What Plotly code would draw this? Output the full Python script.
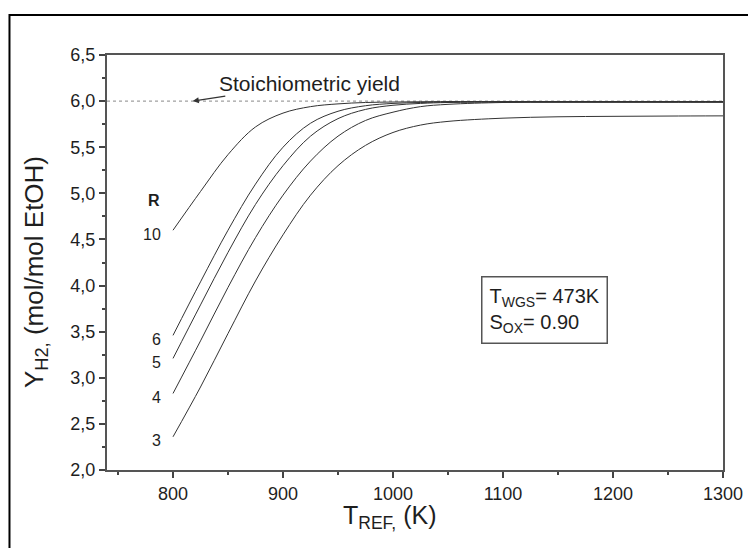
import plotly.graph_objects as go

# ---- data ----
t_ref = [800, 825, 850, 875, 900, 925, 950, 975, 1000, 1025, 1050, 1100, 1150, 1200, 1250, 1300]
r_values = ["10", "6", "5", "4", "3"]
y_r10 = [4.60, 5.02, 5.42, 5.72, 5.87, 5.94, 5.97, 5.985, 5.99, 5.993, 5.995, 5.995, 5.995, 5.995, 5.995, 5.995]
y_r6 = [3.46, 4.04, 4.60, 5.10, 5.50, 5.76, 5.89, 5.95, 5.975, 5.985, 5.99, 5.992, 5.993, 5.993, 5.993, 5.993]
y_r5 = [3.21, 3.79, 4.36, 4.88, 5.30, 5.62, 5.81, 5.91, 5.955, 5.975, 5.985, 5.99, 5.99, 5.99, 5.99, 5.99]
y_r4 = [2.83, 3.40, 3.98, 4.52, 4.98, 5.35, 5.62, 5.79, 5.88, 5.94, 5.965, 5.985, 5.988, 5.988, 5.988, 5.988]
y_r3 = [2.36, 2.90, 3.48, 4.05, 4.55, 4.98, 5.30, 5.52, 5.66, 5.74, 5.78, 5.815, 5.83, 5.835, 5.838, 5.84]
series = [y_r10, y_r6, y_r5, y_r4, y_r3]

stoich_x = [740, 1300]
stoich_y = [6.0, 6.0]

x_ticks = [800, 900, 1000, 1100, 1200, 1300]
y_ticks = [2.0, 2.5, 3.0, 3.5, 4.0, 4.5, 5.0, 5.5, 6.0, 6.5]

FONT = "Liberation Sans, Arial, sans-serif"
INK = "#1e1e1e"

fig = go.Figure()

fig.add_trace(go.Scatter(x=stoich_x, y=stoich_y, mode="lines",
                         line=dict(color="#a0a0a0", width=1.2, dash="dot"),
                         showlegend=False, hoverinfo="skip"))

for name, ys in zip(r_values, series):
    fig.add_trace(go.Scatter(x=t_ref, y=ys, mode="lines", name="R=" + name,
                             line=dict(color="#333333", width=1.0, shape="spline", smoothing=1.0),
                             showlegend=False))

# R labels at the start of each curve
for name, ys in zip(r_values, series):
    fig.add_annotation(x=t_ref[0], y=ys[0], xref="x", yref="y", text=name,
                       showarrow=False, xanchor="right", yanchor="middle",
                       xshift=-10, yshift=-4,
                       font=dict(family=FONT, size=16, color=INK))
fig.add_annotation(x=t_ref[0], y=y_r10[0], xref="x", yref="y", text="<b>R</b>",
                   showarrow=False, xanchor="right", yanchor="middle",
                   xshift=-11, yshift=30,
                   font=dict(family=FONT, size=16, color=INK))

# Stoichiometric yield label with arrow
fig.add_annotation(x=818, y=6.0, xref="x", yref="y", text="Stoichiometric yield",
                   showarrow=True, arrowhead=2, arrowsize=1, arrowwidth=1.2,
                   arrowcolor="#333", ax=117, ay=-18,
                   font=dict(family=FONT, size=21, color=INK))

# parameter box
fig.add_annotation(x=1138, y=3.74, xref="x", yref="y",
                   text="T<sub>WGS</sub>= 473K<br>S<sub>OX</sub>= 0.90",
                   showarrow=False, align="left", xanchor="center", yanchor="middle",
                   bordercolor="#555", borderwidth=1.5, borderpad=7, bgcolor="white",
                   font=dict(family=FONT, size=20, color=INK))

# axis titles
fig.add_annotation(x=0.459, y=-0.07, xref="paper", yref="paper",
                   text="T<sub>REF,</sub> (K)", showarrow=False,
                   xanchor="center", yanchor="top",
                   font=dict(family=FONT, size=25, color=INK))
fig.add_annotation(x=-0.117, y=0.477, xref="paper", yref="paper",
                   text="Y<sub>H2,</sub> (mol/mol EtOH)", showarrow=False, textangle=-90,
                   xanchor="center", yanchor="middle",
                   font=dict(family=FONT, size=26, color=INK))

# outer frame (partial, as in the scanned figure)
fig.add_shape(type="rect", xref="paper", yref="paper",
              x0=-0.1583, x1=1.1, y0=-0.3, y1=1.0964,
              line=dict(color="black", width=2), layer="below")

fig.update_layout(
    width=756, height=548,
    margin=dict(l=99, r=41, t=47, b=86),
    paper_bgcolor="white", plot_bgcolor="white",
    separators=",.",
    font=dict(family=FONT, color=INK),
    xaxis=dict(range=[740, 1300], tickvals=x_ticks, tickformat="d",
               ticks="outside", ticklen=6, tickwidth=1.5, tickcolor="#444",
               minor=dict(dtick=50, tick0=750, ticks="outside", ticklen=3, tickcolor="#444"),
               showline=True, linecolor="#555", linewidth=2, mirror=True,
               showgrid=False, zeroline=False,
               tickfont=dict(family=FONT, size=18, color=INK)),
    yaxis=dict(range=[2.0, 6.5], tickvals=y_ticks, tickformat=".1f",
               ticks="outside", ticklen=6, tickwidth=1.5, tickcolor="#444",
               minor=dict(dtick=0.25, tick0=2.0, ticks="outside", ticklen=3, tickcolor="#444"),
               showline=True, linecolor="#555", linewidth=2, mirror=True,
               showgrid=False, zeroline=False,
               tickfont=dict(family=FONT, size=18, color=INK)),
)

fig.write_html("out.html")
